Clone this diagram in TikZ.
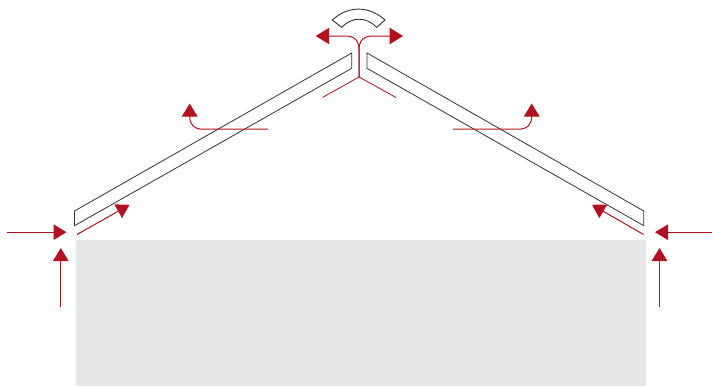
\documentclass[tikz,border=0pt]{standalone}
\usetikzlibrary{arrows.meta}
\definecolor{flowred}{HTML}{B2121D}
\definecolor{wallgray}{HTML}{E6E7E8}
\definecolor{panelline}{HTML}{333333}
\tikzset{
  panel/.style={draw=panelline,line width=0.8pt,line join=miter},
  flow/.style={draw=flowred,line width=1pt},
  bigflow/.style={flow,-{Triangle[length=13pt,width=15.5pt]}},
  bigflow2/.style={flow,-{Triangle[length=13.5pt,width=16.5pt]}}
}
\begin{document}
\begin{tikzpicture}[x=1pt,y=-1pt]
\useasboundingbox (0,0) rectangle (712,386);
% wall block
\fill[wallgray] (76,240) rectangle (646,386);
% roof panels
\draw[panel] (74.5,211) -- (351.7,53) -- (351.7,68.3) -- (74.5,225.7) -- cycle;
\draw[panel] (367,53) -- (643.8,211) -- (643.8,225.7) -- (367,68.3) -- cycle;
% ridge cap
\draw[panel,line width=0.9pt] (332.3,20) .. controls (348,5.5) and (369,5.5) .. (385,20) -- (376.7,27.3)
  .. controls (366,16.5) and (352,16.5) .. (341.7,27.3) -- cycle;
% eave flows
\draw[bigflow] (7,232.2) -- (66.5,232.2);
\draw[bigflow] (60.8,307) -- (60.8,248);
\draw[bigflow] (77,234.5) -- (129.5,204.8);
\draw[bigflow] (711.5,232.2) -- (655,232.2);
\draw[bigflow] (659.5,307) -- (659.5,248);
\draw[bigflow] (643.5,234.5) -- (592,204.8);
% mid flows
\draw[bigflow] (268,129.2) -- (203,129.2) .. controls (194,129.2) and (189.7,125) .. (189.7,116) -- (189.7,103.5);
\draw[bigflow] (453,129.2) -- (518,129.2) .. controls (527,129.2) and (531.7,125) .. (531.7,116) -- (531.7,103.5);
% ridge flows
\draw[bigflow2] (359,77) -- (359,50) .. controls (359,40) and (354,36) .. (345,36) -- (315.7,36);
\draw[bigflow2] (359,77) -- (359,50) .. controls (359,40) and (364,36) .. (373,36) -- (403,36);
\draw[flow,line width=0.8pt] (322.5,97.5) -- (359,77) -- (396,97.5);
\end{tikzpicture}
\end{document}
